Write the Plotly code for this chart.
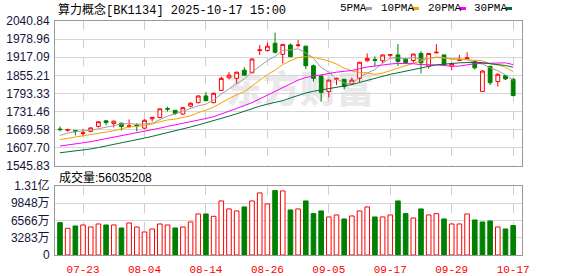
import plotly.graph_objects as go

# ---------------- data ----------------
dates = ["07-18", "07-21", "07-22", "07-23", "07-24", "07-25", "07-28", "07-29", "07-30", "07-31",
         "08-01", "08-04", "08-05", "08-06", "08-07", "08-08", "08-11", "08-12", "08-13", "08-14",
         "08-15", "08-18", "08-19", "08-20", "08-21", "08-22", "08-25", "08-26", "08-27", "08-28",
         "08-29", "09-01", "09-02", "09-03", "09-04", "09-05", "09-08", "09-09", "09-10", "09-11",
         "09-12", "09-15", "09-16", "09-17", "09-18", "09-19", "09-22", "09-23", "09-24", "09-25",
         "09-26", "09-29", "09-30", "10-09", "10-10", "10-13", "10-14", "10-15", "10-16", "10-17"]

opens = [1672, 1668, 1667, 1657, 1664, 1681, 1700, 1691, 1692, 1681,
         1686, 1675, 1707, 1711, 1742, 1736, 1723, 1750, 1762, 1785,
         1762, 1804, 1847, 1845, 1873, 1864, 1940, 1940, 1965, 1927,
         1959, 1957, 1955, 1888, 1853, 1800, 1842, 1842, 1826, 1845,
         1905, 1910, 1905, 1924, 1925, 1910, 1906, 1930, 1887, 1932,
         1925, 1887, 1906, 1912, 1903, 1800, 1886, 1834, 1854, 1842]
highs = [1681, 1673, 1669, 1673, 1677, 1698, 1701, 1700, 1693, 1705,
         1692, 1705, 1713, 1742, 1748, 1737, 1748, 1764, 1787, 1798,
         1797, 1851, 1866, 1868, 1883, 1913, 1959, 1967, 2001, 1961,
         1964, 1976, 1956, 1892, 1855, 1840, 1848, 1843, 1848, 1901,
         1930, 1920, 1926, 1928, 1962, 1915, 1929, 1938, 1931, 1962,
         1926, 1899, 1925, 1934, 1905, 1873, 1888, 1862, 1856, 1845]
lows = [1664, 1663, 1650, 1647, 1661, 1677, 1685, 1677, 1667, 1675,
        1664, 1672, 1698, 1709, 1732, 1720, 1720, 1746, 1760, 1767,
        1760, 1802, 1842, 1826, 1854, 1862, 1925, 1936, 1930, 1896,
        1917, 1951, 1876, 1834, 1765, 1780, 1822, 1808, 1822, 1833,
        1902, 1886, 1896, 1916, 1887, 1896, 1897, 1862, 1878, 1931,
        1887, 1873, 1904, 1911, 1875, 1799, 1822, 1817, 1839, 1785]
closes = [1670, 1670, 1664, 1659, 1676, 1697, 1694, 1699, 1681, 1683,
          1683, 1702, 1712, 1741, 1740, 1725, 1745, 1760, 1785, 1769,
          1794, 1845, 1856, 1866, 1856, 1911, 1942, 1955, 1934, 1961,
          1919, 1959, 1888, 1845, 1797, 1839, 1845, 1817, 1839, 1900,
          1913, 1906, 1925, 1926, 1903, 1899, 1928, 1898, 1930, 1934,
          1891, 1896, 1908, 1915, 1881, 1870, 1830, 1859, 1843, 1786]

ma5 = [1650, 1658, 1663, 1665, 1668, 1673, 1678, 1685, 1689, 1691,
       1688, 1690, 1692, 1704, 1716, 1724, 1733, 1742, 1751, 1757,
       1771, 1791, 1810, 1826, 1843, 1867, 1886, 1906, 1920, 1941,
       1942, 1946, 1932, 1914, 1882, 1866, 1843, 1829, 1827, 1848,
       1863, 1875, 1897, 1914, 1915, 1912, 1916, 1911, 1912, 1918,
       1916, 1910, 1912, 1909, 1898, 1894, 1881, 1871, 1857, 1838]
ma10 = [1636, 1641, 1645, 1649, 1653, 1657, 1661, 1666, 1673, 1679,
        1681, 1684, 1689, 1697, 1703, 1706, 1711, 1717, 1728, 1736,
        1747, 1762, 1776, 1789, 1800, 1819, 1838, 1858, 1873, 1892,
        1905, 1916, 1919, 1917, 1911, 1904, 1894, 1880, 1871, 1865,
        1864, 1859, 1863, 1871, 1881, 1887, 1896, 1904, 1913, 1916,
        1914, 1913, 1911, 1910, 1908, 1905, 1895, 1891, 1883, 1868]
ma20 = [1614, 1617, 1621, 1625, 1629, 1634, 1639, 1644, 1648, 1653,
        1658, 1663, 1669, 1675, 1681, 1686, 1691, 1697, 1703, 1708,
        1714, 1723, 1732, 1743, 1752, 1762, 1775, 1788, 1800, 1814,
        1826, 1839, 1848, 1853, 1856, 1861, 1866, 1869, 1872, 1878,
        1884, 1887, 1891, 1894, 1896, 1896, 1895, 1892, 1892, 1891,
        1889, 1886, 1887, 1891, 1895, 1896, 1896, 1898, 1898, 1892]
ma30 = [1591, 1594, 1597, 1600, 1604, 1609, 1614, 1619, 1624, 1629,
        1635, 1641, 1647, 1653, 1659, 1665, 1672, 1679, 1686, 1693,
        1700, 1708, 1716, 1724, 1733, 1742, 1750, 1757, 1763, 1769,
        1778, 1787, 1795, 1801, 1805, 1810, 1815, 1819, 1824, 1831,
        1839, 1846, 1853, 1859, 1864, 1870, 1876, 1881, 1886, 1891,
        1894, 1896, 1898, 1899, 1900, 1899, 1895, 1892, 1889, 1883]

# volume in 万 (10,000 shares)
volumes = [6160, 5080, 5525, 5715, 5334, 5905, 5715, 5715, 5143, 6096,
           5334, 4381, 4953, 5905, 5715, 5143, 5334, 6286, 7810, 7810,
           7366, 10287, 8763, 8382, 9144, 10287, 11811, 9716, 12255, 12192,
           8573, 8763, 10287, 7874, 8382, 7239, 7620, 6858, 7430, 8382,
           9144, 7239, 7239, 7620, 10287, 7874, 7049, 8763, 7620, 7874,
           6858, 5905, 5905, 7810, 6668, 6286, 6477, 5334, 4953, 5603.5208]
vol_up = [0, 1, 0, 1, 1, 1, 0, 1, 0, 1,
          1, 1, 1, 1, 1, 0, 1, 1, 1, 0,
          1, 1, 1, 1, 0, 1, 1, 1, 0, 1,
          0, 1, 0, 0, 0, 1, 1, 0, 1, 1,
          1, 0, 1, 1, 0, 0, 1, 0, 1, 1,
          0, 1, 1, 1, 0, 0, 0, 1, 0, 0]
last_volume = 56035208

price_ticks = [2040.84, 1978.96, 1917.09, 1855.21, 1793.33, 1731.46, 1669.58, 1607.70, 1545.83]
vol_ticks = [0, 3283, 6566, 9848, 13131]
vol_tick_text = ["0", "3283万", "6566万", "9848万", "1.31亿"]
label_dates = ["07-23", "08-04", "08-14", "08-26", "09-05", "09-17", "09-29", "10-17"]
title_text = "算力概念[BK1134] 2025-10-17 15:00"
ma_names = ["5PMA", "10PMA", "20PMA", "30PMA"]

# ---------------- styling ----------------
W, H = 578, 276
ML, MR, MT, MB = 55, 56, 21, 21
PW, PH = W - ML - MR, H - MT - MB
RED, GREEN = "#ff0000", "#008000"
MA_COLORS = ["#a0a0a0", "#f5a200", "#ff00ff", "#0a6e32"]
GRID = "#d6d6d6"
FRAME = "#9a9a9a"
MONO = "Liberation Mono, Noto Sans CJK SC, monospace"
SANS = "Liberation Sans, Arial, Noto Sans CJK SC, sans-serif"


def px2x(px):
    return (px - ML) / PW


def py2y(py):
    return (H - MB - py) / PH


idx = list(range(len(dates)))
label_idx = [dates.index(d) for d in label_dates]

fig = go.Figure()

fig.add_trace(go.Candlestick(
    x=idx, open=opens, high=highs, low=lows, close=closes,
    increasing=dict(line=dict(color=RED, width=1), fillcolor="#ffffff"),
    decreasing=dict(line=dict(color=GREEN, width=1), fillcolor=GREEN),
    whiskerwidth=0, xaxis="x", yaxis="y", hoverinfo="skip", showlegend=False))

for vals, col in zip([ma5, ma10, ma20, ma30], MA_COLORS):
    fig.add_trace(go.Scatter(x=idx, y=vals, mode="lines", line=dict(color=col, width=1),
                             xaxis="x", yaxis="y", hoverinfo="skip", showlegend=False))

fig.add_trace(go.Bar(
    x=idx, y=volumes, width=0.6,
    marker=dict(color=["#ffffff" if u else GREEN for u in vol_up],
                line=dict(color=[RED if u else GREEN for u in vol_up], width=1)),
    xaxis="x2", yaxis="y2", hoverinfo="skip", showlegend=False))

xrange = [-0.65, 60.15]
main_bottom = py2y(166)
vol_top = py2y(186)

common_x = dict(range=xrange, tickvals=label_idx, showgrid=True, gridcolor="#cfcfcf",
                griddash="dash", gridwidth=1, zeroline=False, showline=True, mirror=True,
                linecolor=FRAME, linewidth=1, ticks="", fixedrange=True, automargin=False)

fig.update_layout(
    width=W, height=H, margin=dict(l=ML, r=MR, t=MT, b=MB, autoexpand=False),
    paper_bgcolor="#ffffff", plot_bgcolor="#ffffff", showlegend=False,
    xaxis=dict(domain=[0, 1], anchor="y", showticklabels=False,
               rangeslider=dict(visible=False), **common_x),
    yaxis=dict(domain=[main_bottom, 1], anchor="x", range=[price_ticks[-1], price_ticks[0]],
               tickvals=price_ticks, ticktext=["%.2f" % v for v in price_ticks],
               showgrid=True, gridcolor=GRID, zeroline=False, showline=True, mirror=True,
               linecolor=FRAME, linewidth=1, ticks="", ticklabelstandoff=2, automargin=False,
               tickfont=dict(family=SANS, size=12, color="#14143a")),
    xaxis2=dict(domain=[0, 1], anchor="y2", ticktext=label_dates, showticklabels=True,
                tickfont=dict(family=MONO, size=11, color=RED), ticklabelstandoff=4, **common_x),
    yaxis2=dict(domain=[0, vol_top], anchor="x2", range=[0, vol_ticks[-1]],
                tickvals=vol_ticks, ticktext=vol_tick_text,
                showgrid=True, gridcolor=GRID, zeroline=False, showline=True, mirror=True,
                linecolor=FRAME, linewidth=1, ticks="", ticklabelstandoff=2, automargin=False,
                tickfont=dict(family=SANS, size=12, color="#14143a")),
)

annotations = [
    dict(text=title_text, x=px2x(56), y=py2y(10), xanchor="left", yanchor="middle",
         font=dict(family=MONO, size=12, color="#000000")),
    dict(text="成交量:%d" % last_volume, x=px2x(57), y=py2y(177), xanchor="left",
         yanchor="middle", font=dict(family=SANS, size=12, color="#000000")),
]
legend_x = [338, 379, 426, 472]
square_x = [366, 413, 460, 506]
shapes = []
for name, lx, sx, col in zip(ma_names, legend_x, square_x, MA_COLORS):
    annotations.append(dict(text=name, x=px2x(lx), y=py2y(8), xanchor="left", yanchor="middle",
                            font=dict(family=MONO, size=11, color="#000000")))
    shapes.append(dict(type="rect", xref="paper", yref="paper",
                       x0=px2x(sx), x1=px2x(sx + 6), y0=py2y(10), y1=py2y(7),
                       fillcolor=col, line=dict(width=0)))
for a in annotations:
    a.update(xref="paper", yref="paper", showarrow=False)

# faint watermark behind the data
shapes.append(dict(type="rect", xref="paper", yref="paper", layer="below",
                   x0=px2x(210), x1=px2x(390), y0=py2y(114), y1=py2y(72),
                   fillcolor="rgba(0,0,0,0)", line=dict(width=0),
                   label=dict(text="东方财富", textposition="middle center",
                              font=dict(family="Noto Sans CJK SC", size=37, color="#e9e9ec",
                                        weight=900))))

fig.update_layout(annotations=annotations, shapes=shapes)
fig.write_html("out.html")
